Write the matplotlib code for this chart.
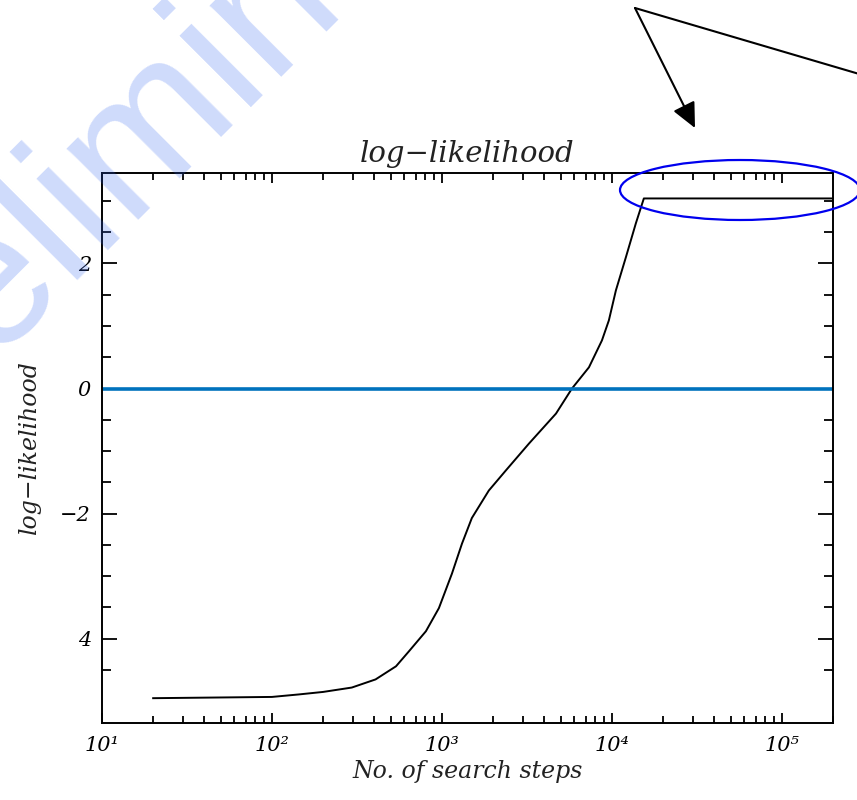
import matplotlib
matplotlib.use("Agg")
import matplotlib.pyplot as plt
from matplotlib.patches import Ellipse, FancyArrowPatch
from matplotlib.ticker import FixedLocator, LogLocator, NullFormatter

# values
steps = [20, 100, 144, 200, 295, 407, 537, 640, 805, 960, 1145, 1312, 1500,
         1888, 2376, 3250, 4690, 5820, 7330, 8740, 9600, 10560, 12090, 13830,
         15420, 200000]
loglik = [-4.95, -4.93, -4.89, -4.85, -4.78, -4.65, -4.44, -4.20, -3.88, -3.51,
          -2.96, -2.48, -2.07, -1.63, -1.31, -0.88, -0.40, 0.00, 0.34, 0.77,
          1.09, 1.57, 2.10, 2.64, 3.04, 3.04]
zero_level = 0.0

x_ticks = [1e1, 1e2, 1e3, 1e4, 1e5]
x_tick_labels = ["10\u00b9", "10\u00b2", "10\u00b3", "10\u2074", "10\u2075"]
y_ticks = [2, 0, -2, -4]
y_tick_labels = ["2", "0", "\u22122", "4"]
y_minor = [-4.5, -3.5, -3, -2.5, -1.5, -1, -0.5, 0.5, 1, 1.5, 2.5, 3]

serif = dict(family="DejaVu Serif", style="italic", color="#222222")

fig = plt.figure(figsize=(8.57, 8), dpi=100)
ax = fig.add_axes([0.119, 0.096, 0.853, 0.688])
ax.set_xscale("log")

ax.plot(steps, loglik, color="black", lw=1.4)
ax.axhline(zero_level, color="#0072BD", lw=2.6)

ax.set_xlim(10, 2e5)
ax.set_ylim(-5.35, 3.45)

ax.xaxis.set_major_locator(FixedLocator(x_ticks))
ax.set_xticklabels(x_tick_labels, **serif, fontsize=15)
ax.xaxis.set_minor_locator(LogLocator(base=10, subs=range(2, 10)))
ax.xaxis.set_minor_formatter(NullFormatter())
ax.yaxis.set_major_locator(FixedLocator(y_ticks))
ax.set_yticklabels(y_tick_labels, **serif, fontsize=15)
ax.yaxis.set_minor_locator(FixedLocator(y_minor))

ax.tick_params(axis="both", which="both", direction="in", top=True, right=True,
               width=1.3, colors="black")
ax.tick_params(axis="x", which="major", length=7.5, pad=9)
ax.tick_params(axis="x", which="minor", length=5)
ax.tick_params(axis="y", which="major", length=11, pad=8)
ax.tick_params(axis="y", which="minor", length=6.5)
for s in ax.spines.values():
    s.set_linewidth(1.4)

ax.set_title("log\u2212likelihood", **serif, fontsize=21, pad=8)
ax.set_xlabel("No. of search steps", **serif, fontsize=17, labelpad=4)
ax.set_ylabel("log\u2212likelihood", **serif, fontsize=17, labelpad=14)

# blue ellipse around the plateau
ell = Ellipse((740 / 857, 610 / 800), 240 / 857, 60 / 800, transform=fig.transFigure,
              fill=False, edgecolor="#0000ee", lw=1.6)
fig.add_artist(ell)

# arrows at the top
arr = FancyArrowPatch((635 / 857, 792 / 800), (695 / 857, 672 / 800),
                      transform=fig.transFigure,
                      arrowstyle="-|>,head_length=0.55,head_width=0.26",
                      mutation_scale=28, color="black", lw=1.5, shrinkA=0, shrinkB=0)
fig.add_artist(arr)
line2 = FancyArrowPatch((635 / 857, 792 / 800), (900 / 857, 714 / 800),
                        transform=fig.transFigure, arrowstyle="-",
                        color="black", lw=1.5, shrinkA=0, shrinkB=0)
fig.add_artist(line2)

# watermark
fig.text(-146 / 857, 311 / 800, "Preliminary", family="Liberation Sans",
         fontsize=138,
         rotation=45, rotation_mode="anchor", ha="left", va="baseline",
         color=(0.2, 0.4, 0.95), alpha=0.24, zorder=10)

plt.savefig("out.png", dpi=100)
